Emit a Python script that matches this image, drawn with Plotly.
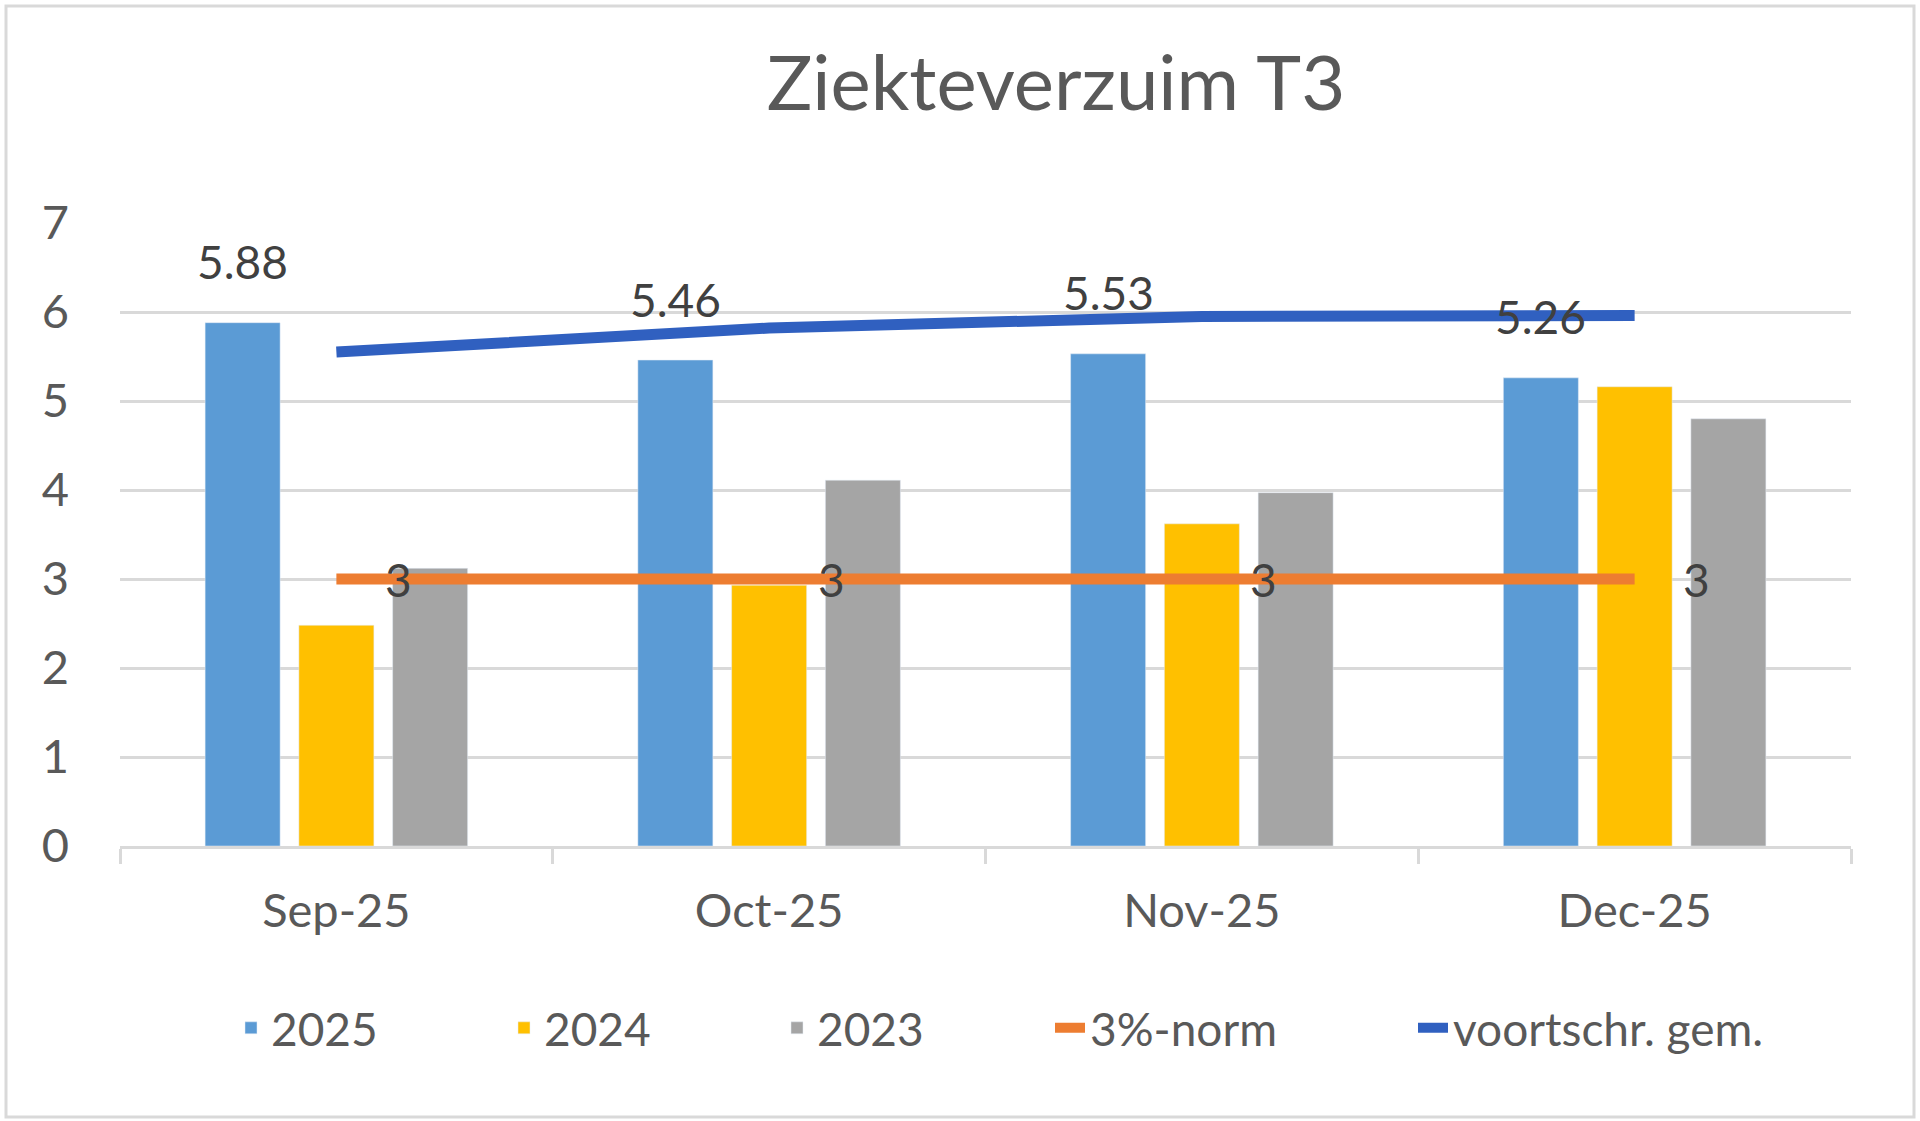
import plotly.graph_objects as go

# data
months = ["Sep-25", "Oct-25", "Nov-25", "Dec-25"]
y2025 = [5.88, 5.46, 5.53, 5.26]
y2024 = [2.48, 2.93, 3.62, 5.16]
y2023 = [3.12, 4.11, 3.97, 4.80]
norm = [3, 3, 3, 3]
rolling_avg = [5.55, 5.82, 5.95, 5.96]
y_ticks = [0, 1, 2, 3, 4, 5, 6, 7]

font_name = "Lato"
text_grey = "#595959"
grid_grey = "#d9d9d9"

W, H = 1920, 1121
ML, MR, MT, MB = 120, 69, 223, 275
BARGAP = 0.35
pw, ph = W - ML - MR, H - MT - MB

fig = go.Figure()

fig.add_trace(go.Bar(x=months, y=y2025, name="2025", marker=dict(color="#5b9bd5")))
fig.add_trace(go.Bar(x=months, y=y2024, name="2024", marker=dict(color="#ffc000")))
fig.add_trace(go.Bar(x=months, y=y2023, name="2023", marker=dict(color="#a5a5a5")))

fig.add_trace(go.Scatter(
    x=months, y=norm, name="3%-norm", mode="lines",
    line=dict(color="#ed7d31", width=11),
))
# the long name gets its own legend box so it is not clipped by entrywidth
fig.add_trace(go.Scatter(
    x=months, y=rolling_avg, name="voortschr. gem.", mode="lines",
    line=dict(color="#3060c0", width=11), legend="legend2",
))

# data labels above the 2025 bars (first bar of each group)
cat_px = pw / len(months)
first_bar_shift = -(1 - BARGAP) * cat_px / 3
for m, v in zip(months, y2025):
    fig.add_annotation(
        x=m, y=v, text=f"{v:.2f}", showarrow=False,
        xshift=first_bar_shift, yshift=61,
        font=dict(family=font_name, size=46, color="#404040"),
    )

# data labels of the norm line, to the right of each point
for m, v in zip(months, norm):
    fig.add_annotation(
        x=m, y=v, text=str(v), showarrow=False, xshift=62,
        font=dict(family=font_name, size=46, color="#404040"),
    )

# light grey border round the whole chart
fig.add_shape(
    type="rect", xref="paper", yref="paper",
    x0=(6 - ML) / pw, x1=(W - 6 - ML) / pw,
    y0=-(H - 4 - (H - MB)) / ph, y1=(H - MB - 6) / ph,
    line=dict(color=grid_grey, width=3), layer="below",
)

legend_font = dict(family=font_name, size=46, color=text_grey)

fig.update_layout(
    width=W, height=H,
    margin=dict(l=ML, r=MR, t=MT, b=MB),
    paper_bgcolor="white", plot_bgcolor="white",
    font=dict(family=font_name, color=text_grey, size=46),
    title=dict(
        text="Ziekteverzuim T3", x=0.55, xanchor="center",
        y=0.926, yanchor="middle",
        font=dict(family=font_name, size=76, color=text_grey),
    ),
    barmode="group", bargap=BARGAP, bargroupgap=0.2,
    showlegend=True,
    legend=dict(
        orientation="h", x=(231 - ML) / pw, xanchor="left",
        y=-0.292, yanchor="middle",
        entrywidth=228, entrywidthmode="pixels",
        font=legend_font, traceorder="normal",
    ),
    legend2=dict(
        orientation="h", x=(1413 - ML) / pw, xanchor="left",
        y=-0.292, yanchor="middle",
        font=legend_font,
    ),
    xaxis=dict(
        type="category", showgrid=False, zeroline=False,
        showline=True, linecolor=grid_grey, linewidth=3,
        ticks="outside", tickson="boundaries", ticklen=15,
        tickcolor=grid_grey, tickwidth=3, ticklabelstandoff=22,
        tickfont=dict(family=font_name, size=47, color=text_grey),
    ),
    yaxis=dict(
        range=[0, 7], tickvals=y_ticks, showgrid=True,
        gridcolor=grid_grey, gridwidth=3, zeroline=False, showline=False,
        ticklabelstandoff=50,
        tickfont=dict(family=font_name, size=47, color=text_grey),
    ),
)

fig.write_html(
    "out.html",
    config={"displayModeBar": False},
    post_script="document.body.style.margin='0';",
)
